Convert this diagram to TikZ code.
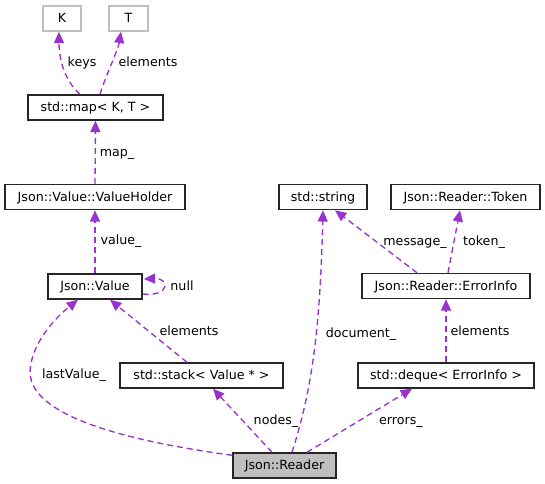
\documentclass[tikz,border=0pt]{standalone}
\usepackage{fontspec}
\setmainfont{DejaVu Sans}
\usetikzlibrary{arrows.meta,calc}
\definecolor{edgec}{HTML}{9A32CD}
\definecolor{grayb}{HTML}{BFBFBF}
\begin{document}
\begin{tikzpicture}[x=0.75pt,y=-0.75pt,
 every node/.style={font=\fontsize{9.5}{11}\selectfont, inner sep=0pt, text height=6.9pt, text depth=0.5pt},
 cls/.style={draw=black!85, line width=1.1pt, minimum height=18.75pt, anchor=center},
 ext/.style={cls, draw=grayb},
 cur/.style={cls, fill=grayb},
 edge/.style={draw=edgec, line width=1pt, dash pattern=on 4.5pt off 3pt, -{Triangle[length=8.5pt,width=7.5pt,fill=edgec]}},
 lab/.style={anchor=center}]
\useasboundingbox (0,0) rectangle (545,484);
% classes
\node[ext, minimum width=28.5pt] (K) at (62,18.5) {K};
\node[ext, minimum width=29.25pt] (T) at (128.5,18.5) {T};
\node[cls, minimum width=101.25pt] (map) at (95.5,107.5) {std::map< K, T >};
\node[cls, minimum width=135pt] (vh) at (95,197) {Json::Value::ValueHolder};
\node[cls, minimum width=70.5pt] (val) at (95,286.5) {Json::Value};
\node[cls, minimum width=122.25pt] (stack) at (201.5,375.5) {std::stack< Value * >};
\node[cur, minimum width=77.25pt] (rd) at (284.5,465.5) {Json::Reader};
\node[cls, minimum width=66pt] (str) at (323,197) {std::string};
\node[cls, minimum width=111.75pt] (tok) at (465.5,197) {Json::Reader::Token};
\node[cls, minimum width=126pt] (err) at (446,286) {Json::Reader::ErrorInfo};
\node[cls, minimum width=132pt] (deq) at (446,375.5) {std::deque< ErrorInfo >};
% edges
\draw[edge] ($(map.north)+(-15.5,0)$) .. controls (66,82) and (59,62) .. ($(K.south)+(-3,0)$);
\draw[edge] ($(map.north)+(4.5,0)$) .. controls (104,80) and (118,50) .. ($(T.south)+(-7.5,0)$);
\draw[edge] (vh.north) -- (map.south);
\draw[edge] (val.north) -- (vh.south);
\draw[edge] ($(val.east)+(0,7.5)$) .. controls (170,297) and (170,278) .. ($(val.east)+(1,-7.5)$);
\draw[edge] ($(stack.north)+(-14.5,0)$) -- ($(val.south)+(15,0)$);
\draw[edge] ($(rd.north west)+(0,3)$) .. controls (120,440) and (32,415) .. (30,373)
  .. controls (30,345) and (55,318) .. ($(val.south)+(-17,0)$);
\draw[edge] ($(rd.north)+(-12.5,0)$) -- ($(stack.south)+(11.5,0)$);
\draw[edge] ($(rd.north)+(7.5,0)$) .. controls (312,390) and (320,330) .. (str.south);
\draw[edge] ($(rd.north)+(22.5,0)$) -- ($(deq.south)+(-34,0)$);
\draw[edge] ($(err.north)+(-29,0)$) -- ($(str.south)+(12,0)$);
\draw[edge] ($(err.north)+(2,0)$) -- ($(tok.south)+(-5.5,0)$);
\draw[edge] (deq.north) -- (err.south);
% labels
\node[lab] (lkeys) at (82,62) {keys};
\node[lab] (lelT) at (148,62) {elements};
\node[lab] (lmap) at (117,152) {map\_};
\node[lab] (lval) at (121,240) {value\_};
\node[lab] (lnull) at (182,286) {null};
\node[lab] (lelS) at (189,331) {elements};
\node[lab] (llast) at (74,374) {lastValue\_};
\node[lab] (lnodes) at (276,420) {nodes\_};
\node[lab] (ldoc) at (361,333) {document\_};
\node[lab] (lerr) at (401,420) {errors\_};
\node[lab] (lmsg) at (415,241) {message\_};
\node[lab] (ltok) at (484,241) {token\_};
\node[lab] (lelD) at (480,331) {elements};
\end{tikzpicture}
\end{document}
